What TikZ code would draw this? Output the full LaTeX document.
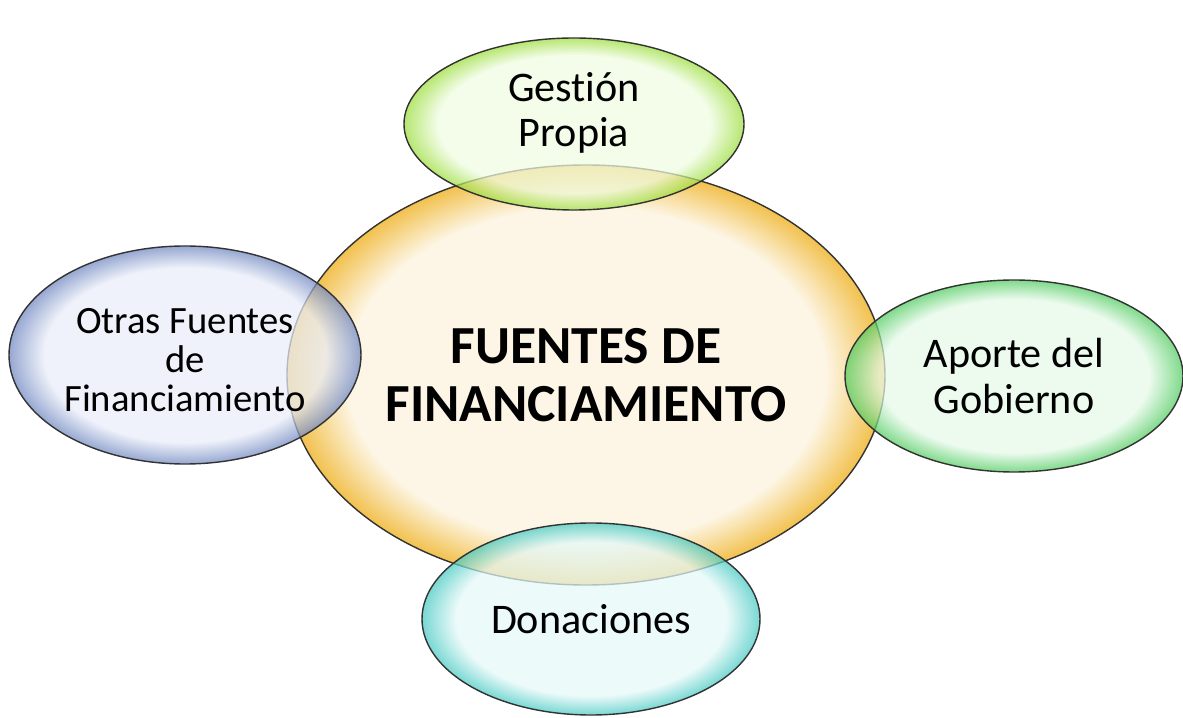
\documentclass[tikz,border=0pt]{standalone}
\usepackage{fontspec}
\setmainfont[Ligatures=NoCommon]{Carlito}
\usepackage{tikz}
\usetikzlibrary{shapes.geometric}

\definecolor{finin}{HTML}{FDF6E6}
\definecolor{finout}{HTML}{F2C14E}
\definecolor{gestin}{HTML}{EFFCE2}
\definecolor{gestout}{HTML}{9BDD3A}
\definecolor{otrin}{HTML}{E9EDF8}
\definecolor{otrout}{HTML}{6E86C0}
\definecolor{gobin}{HTML}{E4F9E8}
\definecolor{gobout}{HTML}{4FCB5E}
\definecolor{donin}{HTML}{E4F8F8}
\definecolor{donout}{HTML}{45C9C2}
\colorlet{bubin}{white}
\colorlet{bubout}{gray}

\pgfdeclareradialshading[bubin,bubout]{bubble}{\pgfpointorigin}{%
  color(0bp)=(bubin); color(20bp)=(bubin); color(25bp)=(bubout); color(50bp)=(bubout)}

\begin{document}
\begin{tikzpicture}
        \tikzstyle{every node} = [inner sep=0pt]
        \tikzstyle{bub} = [ellipse, draw=black!80, line width=0.8pt, shading=bubble]
        \tikzstyle{sat} = [bub, fill opacity=0.72, draw opacity=1]
        \tikzstyle{txt} = [align=center, text=black, font=\fontsize{24}{26}\selectfont]
        \useasboundingbox (0,0) rectangle (23.66,14.34);
        % centre
        \node[bub, minimum width=11.96cm, minimum height=8.4cm,
              /utils/exec={\colorlet{bubin}{finin}\colorlet{bubout}{finout}}] (fin) at (11.72,6.84) {};
        % fuentes
        \foreach \nm/\x/\y/\w/\h/\ci/\co in {gest/11.48/11.86/6.8/3.44/gestin/gestout,
                otr/3.7/7.24/7.04/4.36/otrin/otrout,
                gob/20.28/6.82/6.76/3.84/gobin/gobout,
                don/11.82/1.96/6.76/3.84/donin/donout}
            \node[sat, minimum width=\w cm, minimum height=\h cm,
                  /utils/exec={\colorlet{bubin}{\ci}\colorlet{bubout}{\co}}] (\nm) at (\x,\y) {};
        \node[txt, font=\bfseries\fontsize{30.5}{33}\selectfont] (fin-t) at (fin) {FUENTES DE\\FINANCIAMIENTO};
        \node[txt] (gest-t) at ([yshift=0.22cm]gest) {Gestión\\Propia};
        \node[txt, font=\fontsize{22}{22}\selectfont] (otr-t) at ([yshift=-0.1cm]otr) {Otras Fuentes\\de\\Financiamiento};
        \node[txt] (gob-t) at (gob) {Aporte del\\Gobierno};
        \node[txt] (don-t) at (don) {Donaciones};
\end{tikzpicture}
\end{document}
